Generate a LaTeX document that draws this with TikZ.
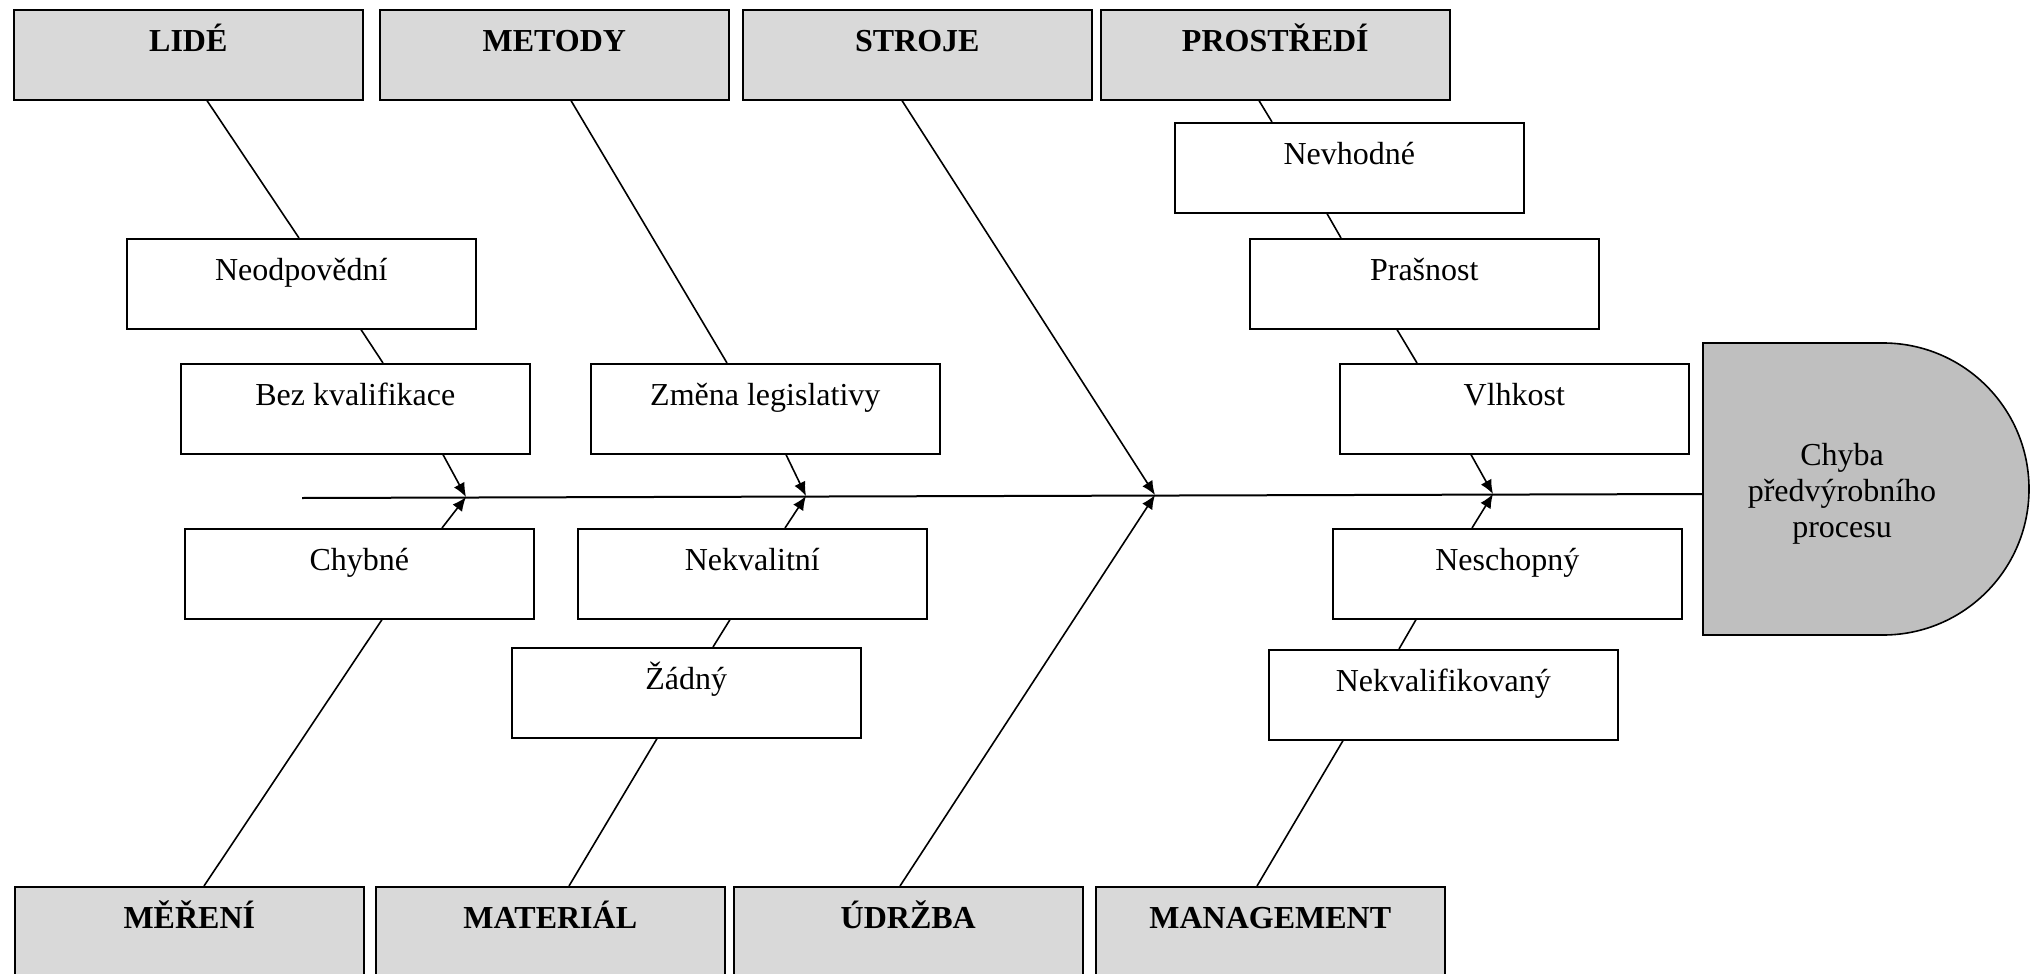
\documentclass[tikz,border=0pt]{standalone}
\usepackage{fontspec}
\setmainfont{Liberation Serif}
\usetikzlibrary{arrows.meta}
\definecolor{catfill}{HTML}{D9D9D9}
\definecolor{headfill}{HTML}{BFBFBF}
\begin{document}
\begin{tikzpicture}[x=0.5pt,y=-0.5pt,
  font=\fontsize{16pt}{18pt}\selectfont,
  box/.style={draw, line width=0.8pt, inner sep=0pt, minimum width=174.5pt,
              text height=21pt, text depth=24pt, anchor=north west},
  category/.style={box, fill=catfill, font=\fontsize{16pt}{18pt}\selectfont\bfseries},
  cause/.style={box, fill=white},
  bone/.style={line width=0.8pt},
  rib/.style={line width=0.8pt, -{Latex[length=7pt,width=6pt]}},
]
\useasboundingbox (0,0) rectangle (2034,974);

% main categories, top row
\node[category] (lide)   at (13,9)   {LIDÉ};
\node[category] (metody) at (379,9)  {METODY};
\node[category] (stroje) at (742,9)  {STROJE};
\node[category] (prostr) at (1100,9) {PROSTŘEDÍ};
% main categories, bottom row
\node[category] (mereni)   at (14,886)   {MĚŘENÍ};
\node[category] (material) at (375,886)  {MATERIÁL};
\node[category] (udrzba)   at (733,886)  {ÚDRŽBA};
\node[category] (mgmt)     at (1095,886) {MANAGEMENT};

% causes above the spine
\node[cause] (neod)  at (126,238)  {Neodpovědní};
\node[cause] (bez)   at (180,363)  {Bez kvalifikace};
\node[cause] (zmena) at (590,363)  {Změna legislativy};
\node[cause] (nevh)  at (1174,122) {Nevhodné};
\node[cause] (pras)  at (1249,238) {Prašnost};
\node[cause] (vlhk)  at (1339,363) {Vlhkost};
% causes below the spine
\node[cause] (chyb)  at (184,528)  {Chybné};
\node[cause] (nekv)  at (577,528)  {Nekvalitní};
\node[cause] (zadn)  at (511,647)  {Žádný};
\node[cause] (nesch) at (1332,528) {Neschopný};
\node[cause] (nekvf) at (1268,649) {Nekvalifikovaný};

% effect (head of the fish)
\path[draw, fill=headfill, line width=0.8pt]
  (1703,343) -- (1883,343) arc[start angle=90, end angle=-90, radius=73pt]
  -- (1703,635) -- cycle;
\node[align=center] (head) at (1842,494) {Chyba\\předvýrobního\\procesu};

% spine
\coordinate (tail)  at (302,498);
\coordinate (headw) at (1703,494);
\coordinate (t1) at (466,497);
\coordinate (t2) at (806,496);
\coordinate (t3) at (1155,495);
\coordinate (t4) at (1493,494);
\draw[line width=1pt] (tail) -- (headw);

% LIDÉ
\draw[bone] ([xshift=97pt]lide.south west) -- ([xshift=86.5pt]neod.north west);
\draw[bone] ([xshift=117.5pt]neod.south west) -- ([xshift=101.5pt]bez.north west);
\draw[rib]  ([xshift=131.5pt]bez.south west) -- (t1);
% MĚŘENÍ
\draw[bone] ([xshift=95pt]mereni.north west) -- ([xshift=99pt]chyb.south west);
\draw[rib]  ([xshift=129pt]chyb.north west) -- (t1);
% METODY
\draw[bone] ([xshift=96pt]metody.south west) -- ([xshift=68.5pt]zmena.north west);
\draw[rib]  ([xshift=98pt]zmena.south west) -- (t2);
% MATERIÁL
\draw[bone] ([xshift=97pt]material.north west) -- ([xshift=73pt]zadn.south west);
\draw[bone] ([xshift=101pt]zadn.north west) -- ([xshift=76.5pt]nekv.south west);
\draw[rib]  ([xshift=104pt]nekv.north west) -- (t2);
% STROJE and ÚDRŽBA
\draw[rib]  ([xshift=80pt]stroje.south west) -- (t3);
\draw[rib]  ([xshift=83.5pt]udrzba.north west) -- (t3);
% PROSTŘEDÍ
\draw[bone] ([xshift=79.5pt]prostr.south west) -- ([xshift=49pt]nevh.north west);
\draw[bone] ([xshift=76.5pt]nevh.south west) -- ([xshift=46pt]pras.north west);
\draw[bone] ([xshift=74pt]pras.south west) -- ([xshift=39pt]vlhk.north west);
\draw[rib]  ([xshift=66pt]vlhk.south west) -- (t4);
% MANAGEMENT
\draw[bone] ([xshift=81pt]mgmt.north west) -- ([xshift=37.5pt]nekvf.south west);
\draw[bone] ([xshift=65.5pt]nekvf.north west) -- ([xshift=42pt]nesch.south west);
\draw[rib]  ([xshift=70pt]nesch.north west) -- (t4);
\end{tikzpicture}
\end{document}
